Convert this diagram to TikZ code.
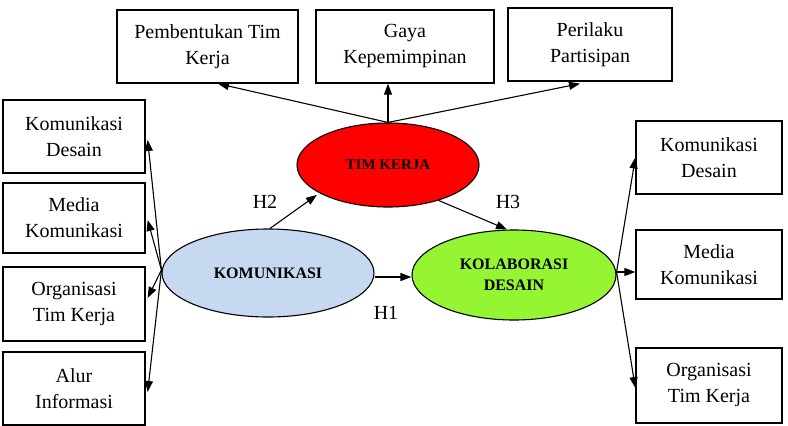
\documentclass[tikz,border=0pt]{standalone}
\usepackage{fontspec}
\setmainfont{Liberation Serif}
\usetikzlibrary{arrows.meta,shapes.geometric}
\definecolor{kblue}{RGB}{198,217,241}
\definecolor{kgreen}{RGB}{150,245,50}
\begin{document}
\begin{tikzpicture}[x=1pt,y=-1pt,
  bx/.style={draw,line width=1.3pt,rectangle,align=center,inner sep=0pt,
    font=\fontsize{20}{26}\selectfont},
  ell/.style={draw,line width=1.1pt,ellipse,inner sep=0pt,align=center,
    font=\fontsize{16}{21}\selectfont\bfseries},
  arr/.style={line width=1.1pt,-{Triangle[length=11pt,width=8pt]}},
  lbl/.style={font=\fontsize{20}{24}\selectfont}]
\useasboundingbox (0,0) rectangle (788,426);
% top boxes
\node[bx,minimum width=181,minimum height=73] (pem) at (207.5,46.5) {Pembentukan Tim\\Kerja};
\node[bx,minimum width=178,minimum height=73] (gaya) at (405,46.5) {Gaya\\Kepemimpinan};
\node[bx,minimum width=164,minimum height=73] (per) at (590,44.5) {Perilaku\\Partisipan};
% left boxes
\node[bx,minimum width=142,minimum height=73] (lkd) at (74,136.5) {Komunikasi\\Desain};
\node[bx,minimum width=142,minimum height=70] (lmk) at (74,218) {Media\\Komunikasi};
\node[bx,minimum width=142,minimum height=74] (lot) at (74,304) {Organisasi\\Tim Kerja};
\node[bx,minimum width=142,minimum height=73] (lai) at (74,388.5) {Alur\\Informasi};
% right boxes
\node[bx,minimum width=146,minimum height=73] (rkd) at (709,157.5) {Komunikasi\\Desain};
\node[bx,minimum width=146,minimum height=69] (rmk) at (709,264.5) {Media\\Komunikasi};
\node[bx,minimum width=146,minimum height=75] (rot) at (709,385.5) {Organisasi\\Tim Kerja};
% ellipses
\node[ell,fill=red,minimum width=182,minimum height=84,font=\fontsize{15}{20}\selectfont\bfseries] (tim) at (388,165) {TIM KERJA};
\node[ell,fill=kblue,minimum width=212,minimum height=88] (kom) at (268,273) {KOMUNIKASI};
\node[ell,fill=kgreen,minimum width=204,minimum height=90] (kol) at (514,275) {KOLABORASI\\DESAIN};
% top arrows
\draw[arr] (tim.north) -- ([xshift=10.5]pem.south);
\draw[arr] (tim.north) -- ([xshift=-17]gaya.south);
\draw[arr] (tim.north) -- ([xshift=-10,yshift=-2]per.south);
% left arrows
\coordinate (kw) at ([yshift=3]kom.west);
\draw[arr] (kw) -- ([xshift=2,yshift=-3.5]lkd.east);
\draw[arr] (kw) -- ([xshift=2,yshift=-2]lmk.east);
\draw[arr] (kw) -- ([xshift=2,yshift=6]lot.east);
\draw[arr] (kw) -- ([xshift=2,yshift=-3.5]lai.east);
% right arrows
\coordinate (ke) at ([yshift=3]kol.east);
\draw[arr] (ke) -- (rkd.west);
\draw[arr] (ke) -- ([yshift=-7.5]rmk.west);
\draw[arr] (ke) -- ([yshift=-2.5]rot.west);
% hypothesis arrows
\draw[arr] ([xshift=2]kom.north) -- ([xshift=-2,yshift=-2]tim.-158);
\draw[arr] (tim.-35) -- ([xshift=-7]kol.north);
\draw[arr] ([yshift=-4]kom.east) -- ([yshift=-2]kol.west);
\node[lbl] (h2) at (265,202) {H2};
\node[lbl] (h3) at (508,202) {H3};
\node[lbl] (h1) at (386,313) {H1};
\end{tikzpicture}
\end{document}
